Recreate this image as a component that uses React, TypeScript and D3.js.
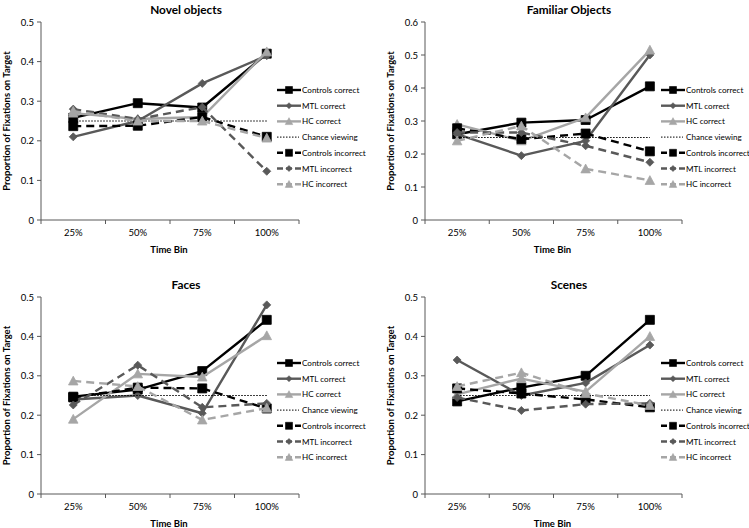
import React from "react";
import * as d3 from "d3";

const CATEGORIES = ["25%", "50%", "75%", "100%"];
const SERIES_NAMES = [
  "Controls correct",
  "MTL correct",
  "HC correct",
  "Controls incorrect",
  "MTL incorrect",
  "HC incorrect",
];
const CHANCE_LABEL = "Chance viewing";
const CHANCE_VALUE = 0.25;
const PANEL_TITLES = ["Novel objects", "Familiar Objects", "Faces", "Scenes"];
const Y_MAXES = [0.5, 0.6, 0.5, 0.5];
const X_TITLE = "Time Bin";
const Y_TITLE = "Proportion of Fixations on Target";

// rows follow SERIES_NAMES
const NOVEL_VALUES = [
  [0.258, 0.295, 0.284, 0.42],
  [0.21, 0.25, 0.345, 0.415],
  [0.27, 0.255, 0.26, 0.425],
  [0.237, 0.238, 0.26, 0.21],
  [0.28, 0.255, 0.285, 0.123],
  [0.275, 0.25, 0.25, 0.207],
];
const FAMILIAR_VALUES = [
  [0.26, 0.295, 0.303, 0.405],
  [0.26, 0.195, 0.24, 0.5],
  [0.29, 0.24, 0.31, 0.515],
  [0.278, 0.245, 0.262, 0.208],
  [0.265, 0.265, 0.225, 0.175],
  [0.24, 0.285, 0.155, 0.12],
];
const FACES_VALUES = [
  [0.247, 0.265, 0.312, 0.442],
  [0.24, 0.25, 0.205, 0.48],
  [0.19, 0.305, 0.297, 0.402],
  [0.245, 0.27, 0.268, 0.217],
  [0.226, 0.327, 0.22, 0.23],
  [0.287, 0.273, 0.188, 0.218],
];
const SCENES_VALUES = [
  [0.235, 0.27, 0.3, 0.442],
  [0.34, 0.25, 0.282, 0.378],
  [0.253, 0.293, 0.26, 0.4],
  [0.268, 0.255, 0.24, 0.22],
  [0.245, 0.212, 0.228, 0.23],
  [0.273, 0.308, 0.255, 0.225],
];
const PANEL_VALUES = [NOVEL_VALUES, FAMILIAR_VALUES, FACES_VALUES, SCENES_VALUES];

const BLACK = "#000000";
const DARK = "#595959";
const LIGHT = "#a6a6a6";
const STYLES = [
  { color: BLACK, dash: null, marker: "square" },
  { color: DARK, dash: null, marker: "diamond" },
  { color: LIGHT, dash: null, marker: "triangle" },
  { color: BLACK, dash: "8,5", marker: "square" },
  { color: DARK, dash: "8,5", marker: "diamond" },
  { color: LIGHT, dash: "8,5", marker: "triangle" },
];

const LAYOUT = [
  { left: 41, right: 299, top: 22, bottom: 220, cx: 186, legendX: 277, legendY: 90 },
  { left: 425, right: 682, top: 22, bottom: 220, cx: 569, legendX: 661, legendY: 90 },
  { left: 41, right: 299, top: 297, bottom: 494, cx: 186, legendX: 277, legendY: 363 },
  { left: 425, right: 682, top: 297, bottom: 494, cx: 569, legendX: 661, legendY: 363 },
];

const FONT = "Lato, 'Open Sans', sans-serif";

function markerPath(kind: string, s: number): string {
  const h = s / 2;
  if (kind === "square") return `M${-h},${-h}H${h}V${h}H${-h}Z`;
  if (kind === "diamond") return `M0,${-h}L${h},0L0,${h}L${-h},0Z`;
  return `M0,${-h}L${h},${h * 0.85}L${-h},${h * 0.85}Z`;
}

function markerSize(kind: string, legend: boolean): number {
  if (legend) return kind === "square" ? 7 : kind === "diamond" ? 6 : 7.5;
  return kind === "square" ? 9 : kind === "diamond" ? 8 : 9.5;
}

function Panel({ idx }: { idx: number }) {
  const L = LAYOUT[idx];
  const values = PANEL_VALUES[idx];
  const yMax = Y_MAXES[idx];
  const x = d3.scaleBand<string>().domain(CATEGORIES).range([L.left, L.right]).padding(0);
  const y = d3.scaleLinear().domain([0, yMax]).range([L.bottom, L.top]);
  const cxOf = (c: string) => (x(c) as number) + x.bandwidth() / 2;
  const yTicks = d3.range(0, Math.round(yMax * 10) + 1).map((i) => i / 10);
  const line = d3
    .line<number>()
    .x((_, i) => cxOf(CATEGORIES[i]))
    .y((v) => y(v));
  const xTickPos = [L.left, ...CATEGORIES.map((c) => (x(c) as number) + x.bandwidth())];
  const axisColor = "#595959";
  const legendRows = [
    { name: SERIES_NAMES[0], style: STYLES[0] },
    { name: SERIES_NAMES[1], style: STYLES[1] },
    { name: SERIES_NAMES[2], style: STYLES[2] },
    { name: CHANCE_LABEL, style: null },
    { name: SERIES_NAMES[3], style: STYLES[3] },
    { name: SERIES_NAMES[4], style: STYLES[4] },
    { name: SERIES_NAMES[5], style: STYLES[5] },
  ];
  const yMid = (L.top + L.bottom) / 2;

  const seriesEls = (i: number) => {
    const st = STYLES[i];
    const vals = values[i];
    return (
      <g key={"s" + i}>
        <path
          d={line(vals) || ""}
          fill="none"
          stroke={st.color}
          strokeWidth={2.4}
          strokeDasharray={st.dash || undefined}
          strokeLinejoin="round"
        />
        {vals.map((v, j) => (
          <path
            key={j}
            d={markerPath(st.marker, markerSize(st.marker, false))}
            transform={`translate(${cxOf(CATEGORIES[j])},${y(v)})`}
            fill={st.color}
            stroke={st.color}
            strokeWidth={0.8}
          />
        ))}
      </g>
    );
  };

  return (
    <g>
      <text x={L.cx} y={L.top - 8} textAnchor="middle" fontFamily={FONT} fontWeight="bold" fontSize={11.8}>
        {PANEL_TITLES[idx]}
      </text>
      {/* y axis */}
      <line x1={L.left} x2={L.left} y1={L.top} y2={L.bottom} stroke={axisColor} strokeWidth={1} />
      {yTicks.map((t) => (
        <g key={t}>
          <line x1={L.left - 4} x2={L.left} y1={y(t)} y2={y(t)} stroke={axisColor} strokeWidth={1} />
          <text x={L.left - 7} y={y(t) + 3.5} textAnchor="end" fontFamily={FONT} fontSize={9.5}>
            {t === 0 ? "0" : t.toFixed(1)}
          </text>
        </g>
      ))}
      {/* x axis */}
      <line x1={L.left} x2={L.right} y1={L.bottom} y2={L.bottom} stroke={axisColor} strokeWidth={1} />
      {xTickPos.map((p, i) => (
        <line key={i} x1={p} x2={p} y1={L.bottom} y2={L.bottom + 4} stroke={axisColor} strokeWidth={1} />
      ))}
      {CATEGORIES.map((c) => (
        <text key={c} x={cxOf(c)} y={L.bottom + 16} textAnchor="middle" fontFamily={FONT} fontSize={9.5}>
          {c}
        </text>
      ))}
      <text x={(L.left + L.right) / 2 - 1} y={L.bottom + 33} textAnchor="middle" fontFamily={FONT} fontWeight="bold" fontSize={9.5}>
        {X_TITLE}
      </text>
      <text
        transform={`translate(${L.left - 31},${yMid}) rotate(-90)`}
        textAnchor="middle"
        fontFamily={FONT}
        fontWeight="bold"
        fontSize={9.5}
      >
        {Y_TITLE}
      </text>
      {/* series */}
      {seriesEls(0)}
      {seriesEls(1)}
      {seriesEls(2)}
      <line
        x1={cxOf(CATEGORIES[0])}
        x2={cxOf(CATEGORIES[CATEGORIES.length - 1])}
        y1={y(CHANCE_VALUE)}
        y2={y(CHANCE_VALUE)}
        stroke="#000"
        strokeWidth={1}
        strokeDasharray="1.5,1.5"
      />
      {seriesEls(3)}
      {seriesEls(4)}
      {seriesEls(5)}
      {/* legend */}
      {legendRows.map((r, i) => {
        const ly = L.legendY + i * 15.7;
        return (
          <g key={r.name}>
            {r.style ? (
              <>
                <line
                  x1={L.legendX}
                  x2={L.legendX + 24}
                  y1={ly}
                  y2={ly}
                  stroke={r.style.color}
                  strokeWidth={2.4}
                  strokeDasharray={r.style.dash ? "6,3" : undefined}
                />
                <path
                  d={markerPath(r.style.marker, markerSize(r.style.marker, true))}
                  transform={`translate(${L.legendX + 12},${ly})`}
                  fill={r.style.color}
                  stroke={r.style.color}
                  strokeWidth={0.6}
                />
              </>
            ) : (
              <line
                x1={L.legendX}
                x2={L.legendX + 22}
                y1={ly}
                y2={ly}
                stroke="#000"
                strokeWidth={1}
                strokeDasharray="1.5,1.5"
              />
            )}
            <text x={L.legendX + 25} y={ly + 3} fontFamily={FONT} fontSize={8.1}>
              {r.name}
            </text>
          </g>
        );
      })}
    </g>
  );
}

export default function App() {
  return (
    <svg
      width={749}
      height={528}
      style={{ position: "absolute", left: 0, top: 0, background: "#fff" }}
    >
      <rect width={749} height={528} fill="#fff" />
      {PANEL_TITLES.map((_, i) => (
        <Panel key={i} idx={i} />
      ))}
    </svg>
  );
}
